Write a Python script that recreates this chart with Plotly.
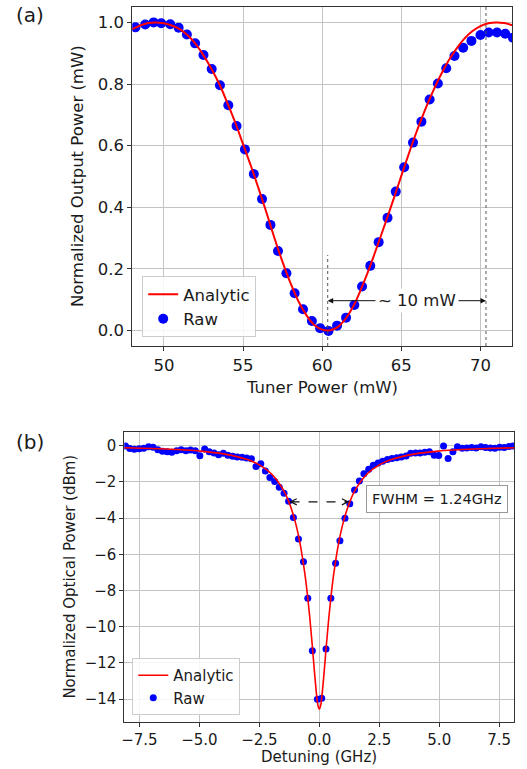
import plotly.graph_objects as go

# ---------------- Panel (a) data ----------------
tuner_raw = [48.2, 48.82, 49.35, 49.83, 50.4, 50.93, 51.45, 51.97, 52.5, 53.02, 53.54, 54.07,
             54.59, 55.12, 55.68, 56.2, 56.73, 57.21, 57.74, 58.26, 58.79, 59.35, 59.87, 60.4,
             60.94, 61.51, 62.03, 62.52, 63.04, 63.57, 64.13, 64.65, 65.18, 65.74, 66.27, 66.79,
             67.31, 67.84, 68.36, 68.91, 69.43, 70.0, 70.52, 71.05, 71.57, 72.05]
power_raw = [0.984, 0.993, 1.0, 0.997, 0.994, 0.983, 0.961, 0.932, 0.894, 0.849, 0.796, 0.731,
             0.664, 0.588, 0.508, 0.427, 0.343, 0.258, 0.186, 0.121, 0.069, 0.031, 0.008, -0.001,
             0.016, 0.042, 0.083, 0.143, 0.210, 0.287, 0.366, 0.451, 0.530, 0.610, 0.678, 0.750,
             0.802, 0.851, 0.891, 0.918, 0.940, 0.959, 0.967, 0.967, 0.963, 0.950]

tuner_fit = [48.0, 48.5, 49.0, 49.5, 50.0, 50.5, 51.0, 51.5, 52.0, 52.5, 53.0, 53.5, 54.0, 54.5,
             55.0, 55.5, 56.0, 56.5, 57.0, 57.5, 58.0, 58.5, 59.0, 59.5, 60.0, 60.5, 61.0, 61.5,
             62.0, 62.5, 63.0, 63.5, 64.0, 64.5, 65.0, 65.5, 66.0, 66.5, 67.0, 67.5, 68.0, 68.5,
             69.0, 69.5, 70.0, 70.5, 71.0, 71.5, 72.0]
power_fit = [0.978, 0.990, 0.998, 1.000, 0.997, 0.990, 0.978, 0.958, 0.930, 0.893, 0.850, 0.800,
             0.740, 0.676, 0.605, 0.534, 0.458, 0.380, 0.298, 0.222, 0.154, 0.095, 0.050, 0.018,
             0.003, 0.001, 0.012, 0.040, 0.082, 0.140, 0.205, 0.277, 0.350, 0.425, 0.502, 0.578,
             0.650, 0.716, 0.776, 0.830, 0.877, 0.916, 0.948, 0.972, 0.988, 0.997, 1.000, 0.998,
             0.991]

xticks_a = [50, 55, 60, 65, 70]
yticks_a = [0.0, 0.2, 0.4, 0.6, 0.8, 1.0]

# ---------------- Panel (b) data ----------------
det_raw = [-8.08, -7.90, -7.71, -7.51, -7.32, -7.12, -6.93, -6.73, -6.54, -6.34, -6.15, -5.95,
           -5.76, -5.56, -5.37, -5.17, -4.98, -4.78, -4.59, -4.39, -4.20, -4.00, -3.81, -3.61,
           -3.42, -3.22, -3.03, -2.83, -2.64, -2.44, -2.25, -2.06, -1.86, -1.67, -1.47, -1.28,
           -1.08, -0.87, -0.66, -0.48, -0.29, -0.08,
           0.10, 0.28, 0.48, 0.68, 0.86, 1.07, 1.27, 1.47, 1.67, 1.86, 2.06, 2.25, 2.45, 2.64,
           2.84, 3.03, 3.23, 3.42, 3.62, 3.81, 4.01, 4.20, 4.40, 4.59, 4.79, 4.98, 5.18, 5.37,
           5.57, 5.76, 5.96, 6.15, 6.35, 6.54, 6.74, 6.93, 7.13, 7.32, 7.52, 7.71, 7.91, 8.08]
opt_raw = [-0.02, -0.15, -0.19, -0.17, -0.14, -0.06, -0.08, -0.22, -0.30, -0.33, -0.36, -0.28,
           -0.22, -0.27, -0.24, -0.28, -0.55, -0.18, -0.33, -0.40, -0.50, -0.42, -0.52, -0.58,
           -0.62, -0.64, -0.68, -0.72, -1.15, -1.00, -1.40, -1.75, -1.97, -2.30, -2.62, -3.07,
           -3.96, -5.15, -6.41, -8.43, -11.33, -14.01,
           -13.96, -11.23, -8.43, -6.50, -5.25, -4.01, -3.20, -2.45, -1.95, -1.55, -1.30, -1.08,
           -0.95, -0.86, -0.76, -0.70, -0.66, -0.62, -0.56, -0.42, -0.40, -0.40, -0.36, -0.33,
           -0.52, -0.54, -0.02, -0.70, -0.33, -0.05, -0.14, -0.12, -0.09, -0.13, -0.06, -0.10,
           -0.12, -0.14, -0.08, -0.10, -0.04, -0.02]

det_fit = [-8.13, -7.0, -6.0, -5.0, -4.0, -3.0, -2.5, -2.0, -1.5, -1.25, -1.0, -0.8, -0.6, -0.5,
           -0.4, -0.3, -0.2, -0.1, -0.05, 0.0, 0.05, 0.1, 0.2, 0.3, 0.4, 0.5, 0.6, 0.8, 1.0, 1.25,
           1.5, 2.0, 2.5, 3.0, 4.0, 5.0, 6.0, 7.0, 8.13]
opt_fit = [-0.113, -0.152, -0.205, -0.29, -0.448, -0.765, -1.06, -1.55, -2.44, -3.17, -4.22,
           -5.42, -7.10, -8.18, -9.45, -10.93, -12.53, -13.95, -14.40, -14.56, -14.40, -13.95,
           -12.53, -10.93, -9.45, -8.18, -7.10, -5.42, -4.22, -3.17, -2.44, -1.55, -1.06, -0.765,
           -0.448, -0.29, -0.205, -0.152, -0.113]

xticks_b = [-7.5, -5.0, -2.5, 0.0, 2.5, 5.0, 7.5]
yticks_b = [0, -2, -4, -6, -8, -10, -12, -14]

W, H = 527, 769
FONT = "DejaVu Sans"
INK = "#1a1a1a"
GRID = "#c4c4c4"

fig = go.Figure()

# panel (a)
fig.add_trace(go.Scatter(x=tuner_raw, y=power_raw, mode="markers", name="Raw",
                         marker=dict(color="#0000ff", size=10, line=dict(width=0)),
                         xaxis="x", yaxis="y", legend="legend", legendrank=2))
fig.add_trace(go.Scatter(x=tuner_fit, y=power_fit, mode="lines", name="Analytic",
                         line=dict(color="#ff0000", width=2, shape="spline"),
                         xaxis="x", yaxis="y", legend="legend", legendrank=1))
# panel (b)
fig.add_trace(go.Scatter(x=det_raw, y=opt_raw, mode="markers", name="Raw",
                         marker=dict(color="#0000ff", size=7, line=dict(width=0)),
                         xaxis="x2", yaxis="y2", legend="legend2", legendrank=2))
fig.add_trace(go.Scatter(x=det_fit, y=opt_fit, mode="lines", name="Analytic",
                         line=dict(color="#ff0000", width=1.6, shape="spline"),
                         xaxis="x2", yaxis="y2", legend="legend2", legendrank=1))

axis_common = dict(showline=True, linecolor="#333333", linewidth=1, mirror=True,
                   ticks="outside", ticklen=4, tickwidth=1, tickcolor="#333333",
                   showgrid=True, gridcolor=GRID, gridwidth=1, zeroline=False)

fig.update_layout(
    width=W, height=H, margin=dict(l=0, r=0, t=0, b=0),
    paper_bgcolor="white", plot_bgcolor="white",
    font=dict(family=FONT, color=INK),
    xaxis=dict(domain=[130 / W, 512 / W], range=[48.0, 72.0], tickvals=xticks_a,
               tickfont=dict(size=16.5), anchor="y", **axis_common),
    yaxis=dict(domain=[1 - 346 / H, 1 - 7 / H], range=[-0.05, 1.05], tickvals=yticks_a,
               tickformat=".1f", tickfont=dict(size=16.5), anchor="x", **axis_common),
    xaxis2=dict(domain=[122 / W, 514 / W], range=[-8.13, 8.12], tickvals=xticks_b,
                tickformat=".1f", tickfont=dict(size=15), anchor="y2", **axis_common),
    yaxis2=dict(domain=[1 - 722 / H, 1 - 432 / H], range=[-15.27, 0.76], tickvals=yticks_b,
                tickfont=dict(size=15), anchor="x2", **axis_common),
    legend=dict(x=140 / W, y=1 - 337 / H, xanchor="left", yanchor="bottom",
                bgcolor="rgba(255,255,255,0.85)", bordercolor="#cccccc", borderwidth=1,
                font=dict(size=16.5, color=INK), tracegroupgap=0),
    legend2=dict(x=130 / W, y=1 - 715 / H, xanchor="left", yanchor="bottom",
                 bgcolor="rgba(255,255,255,0.85)", bordercolor="#cccccc", borderwidth=1,
                 font=dict(size=15, color=INK), tracegroupgap=0),
    showlegend=True,
)

# dotted reference lines in (a)
fig.add_shape(type="line", xref="x", yref="y", x0=60.35, x1=60.35, y0=-0.05, y1=0.245,
              line=dict(color="#555555", width=1, dash="dot"))
fig.add_shape(type="line", xref="x", yref="y", x0=70.35, x1=70.35, y0=-0.05, y1=1.05,
              line=dict(color="#555555", width=1, dash="dot"))

# ~10 mW double arrow
for xe in (60.35, 70.35):
    fig.add_annotation(x=xe, y=0.097, ax=66.0, ay=0.097, xref="x", yref="y",
                       axref="x", ayref="y", text="", showarrow=True, arrowhead=2,
                       arrowsize=1.1, arrowwidth=1, arrowcolor="#111111", standoff=0)
fig.add_annotation(x=66.0, y=0.097, xref="x", yref="y", text="~ 10 mW", showarrow=False,
                   bgcolor="white", font=dict(size=16.5, color=INK), borderpad=2,
                   xanchor="center", yanchor="middle")

# FWHM dashed double arrow in (b)
fig.add_shape(type="line", xref="x2", yref="y2", x0=-1.2, x1=1.2, y0=-3.1, y1=-3.1,
              line=dict(color="#111111", width=1.2, dash="dash"))
for xe, xs in ((-1.25, -1.0), (1.25, 1.0)):
    fig.add_annotation(x=xe, y=-3.1, ax=xs, ay=-3.1, xref="x2", yref="y2",
                       axref="x2", ayref="y2", text="", showarrow=True, arrowhead=5,
                       arrowsize=1.0, arrowwidth=1.2, arrowcolor="#111111", standoff=0)
fig.add_annotation(x=4.9, y=-2.97, xref="x2", yref="y2", text="FWHM = 1.24GHz",
                   showarrow=False, bgcolor="white", bordercolor="#999999", borderwidth=1,
                   borderpad=5, font=dict(size=14.5, color=INK),
                   xanchor="center", yanchor="middle")

# axis titles and panel labels (paper coordinates, centred)
def label(x_px, y_px, text, size, angle=0):
    fig.add_annotation(x=x_px / W, y=1 - y_px / H, xref="paper", yref="paper", text=text,
                       showarrow=False, textangle=angle, xanchor="center", yanchor="middle",
                       font=dict(size=size, color=INK))

label(321, 387, "Tuner Power (mW)", 16.5)
label(75, 176.5, "Normalized Output Power (mW)", 16.5, -90)
label(318, 757, "Detuning (GHz)", 15)
label(67, 577, "Normalized Optical Power (dBm)", 15, -90)
label(27, 15, "(a)", 20)
label(27, 442, "(b)", 20)

fig.write_html("out.html", config={"displayModeBar": False},
               post_script="document.body.style.margin='0px';")
